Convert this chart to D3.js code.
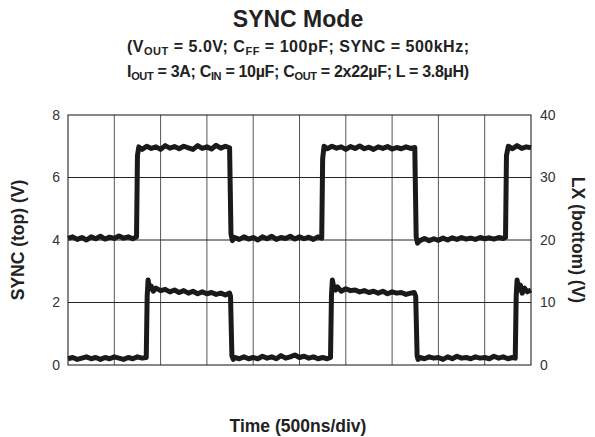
<!DOCTYPE html>
<html>
<head>
<meta charset="utf-8">
<title>SYNC Mode</title>
<script src="https://cdn.jsdelivr.net/npm/d3@7"></script>
<style>
  body { margin: 0; background: #fff; }
  svg { display: block; font-family: "Liberation Sans", Arial, sans-serif; }
  .tick-label { font-size: 14px; fill: #333; }
  .axis-title { font-size: 17.5px; font-weight: bold; fill: #222; }
</style>
</head>
<body>
<div id="chart"></div>
<script>
// time grid in ns (500 ns/div)
var timeGrid = [0, 500, 1000, 1500, 2000, 2500, 3000, 3500, 4000, 4500, 5000];
var leftTicks = [0, 2, 4, 6, 8];
var rightTicks = [0, 10, 20, 30, 40];

// SYNC trace, [time ns, volts on left axis]
var syncTrace = [
  [0, 4.05], [50, 4.1], [100, 4.02], [150, 4.08], [200, 4.0], [250, 4.1], [300, 4.04], [350, 4.12],
  [400, 4.03], [450, 4.09], [500, 4.05], [550, 4.13], [600, 4.06], [650, 4.1], [700, 4.04], [740, 4.1],
  [750, 6.7], [765, 6.98],
  [800, 6.9], [850, 7.0], [900, 6.93], [950, 6.98], [1000, 6.9], [1050, 7.02], [1100, 6.94], [1150, 6.99],
  [1200, 6.92], [1250, 7.0], [1300, 6.95], [1350, 6.9], [1400, 7.02], [1450, 6.93], [1500, 6.98],
  [1550, 6.91], [1600, 7.03], [1650, 6.94], [1700, 7.0], [1745, 6.95],
  [1760, 4.2], [1775, 3.98],
  [1800, 4.08], [1850, 4.02], [1900, 4.1], [1950, 4.03], [2000, 4.08], [2050, 4.0], [2100, 4.1],
  [2150, 4.04], [2200, 4.12], [2250, 4.02], [2300, 4.08], [2350, 4.05], [2400, 4.12], [2450, 4.03],
  [2500, 4.1], [2550, 4.04], [2600, 4.09], [2650, 4.02], [2700, 4.1], [2740, 4.06],
  [2750, 6.6], [2765, 7.0],
  [2800, 6.92], [2850, 7.0], [2900, 6.94], [2950, 6.98], [3000, 6.9], [3050, 6.99], [3100, 6.93],
  [3150, 7.01], [3200, 6.92], [3250, 6.97], [3300, 6.9], [3350, 6.98], [3400, 6.93], [3450, 6.99],
  [3500, 6.91], [3550, 6.96], [3600, 6.92], [3650, 6.98], [3700, 6.93], [3745, 6.96],
  [3760, 4.1], [3775, 3.9],
  [3800, 3.98], [3850, 4.05], [3900, 3.98], [3950, 4.04], [4000, 3.99], [4050, 4.06], [4100, 4.0],
  [4150, 4.07], [4200, 4.02], [4250, 4.08], [4300, 4.03], [4350, 4.06], [4400, 4.02], [4450, 4.08],
  [4500, 4.04], [4550, 4.07], [4600, 4.03], [4650, 4.08], [4700, 4.05], [4725, 4.08],
  [4735, 6.7], [4755, 7.0],
  [4800, 6.92], [4850, 7.02], [4900, 6.93], [4950, 6.98], [5000, 6.95]
];

// LX trace, [time ns, volts on right axis]
var lxTrace = [
  [0, 1.0], [50, 1.2], [100, 0.9], [150, 1.1], [200, 1.3], [250, 1.0], [300, 1.2], [350, 0.9],
  [400, 1.2], [450, 1.0], [500, 1.3], [550, 1.1], [600, 0.9], [650, 1.2], [700, 1.0], [750, 1.3],
  [800, 1.1], [845, 1.2],
  [855, 11], [865, 13.6], [880, 12.2], [900, 12.6], [920, 11.8], [950, 12.3], [1000, 11.9],
  [1050, 12.1], [1100, 11.7], [1150, 12.0], [1200, 11.6], [1250, 11.9], [1300, 11.5], [1350, 11.8],
  [1400, 11.4], [1450, 11.7], [1500, 11.4], [1550, 11.6], [1600, 11.3], [1650, 11.5], [1700, 11.2],
  [1745, 11.5], [1755, 11.0],
  [1770, 1.5], [1785, 0.9],
  [1800, 1.2], [1850, 1.0], [1900, 1.3], [1950, 1.0], [2000, 1.2], [2050, 1.0], [2100, 1.4],
  [2150, 1.1], [2200, 1.3], [2250, 1.0], [2300, 1.5], [2350, 1.1], [2400, 1.3], [2450, 1.6],
  [2500, 1.2], [2550, 1.4], [2600, 1.1], [2650, 1.3], [2700, 1.0], [2750, 1.2], [2800, 1.0], [2835, 1.2],
  [2845, 11], [2855, 13.6], [2870, 12.4], [2890, 12.0], [2910, 12.5], [2950, 11.8], [3000, 12.2],
  [3050, 11.9], [3100, 12.0], [3150, 11.7], [3200, 11.9], [3250, 11.6], [3300, 11.8], [3350, 11.5],
  [3400, 11.8], [3450, 11.4], [3500, 11.7], [3550, 11.5], [3600, 11.6], [3650, 11.3], [3700, 11.5],
  [3740, 11.6], [3755, 11.0],
  [3770, 1.5], [3780, 0.9],
  [3800, 1.2], [3850, 1.0], [3900, 1.3], [3950, 1.1], [4000, 1.2], [4050, 0.9], [4100, 1.3],
  [4150, 1.0], [4200, 1.4], [4250, 1.1], [4300, 1.2], [4350, 1.0], [4400, 1.3], [4450, 1.1],
  [4500, 1.2], [4550, 1.0], [4600, 1.4], [4650, 1.1], [4700, 1.3], [4750, 1.0], [4800, 1.2], [4830, 1.1],
  [4840, 11], [4850, 13.6], [4865, 12.0], [4885, 12.8], [4905, 11.5], [4930, 12.3], [4960, 11.7], [5000, 12.0]
];

var width = 595, height = 437;
var margin = {top: 115, right: 64, bottom: 72, left: 68};

var svg = d3.select("#chart").append("svg")
  .attr("width", width)
  .attr("height", height);

svg.append("rect").attr("width", width).attr("height", height).attr("fill", "#fff");

var x = d3.scaleLinear().domain([0, 5000]).range([margin.left, width - margin.right]);
var yL = d3.scaleLinear().domain([0, 8]).range([height - margin.bottom, margin.top]);
var yR = d3.scaleLinear().domain([0, 40]).range([height - margin.bottom, margin.top]);

// grid
svg.append("g").selectAll("line")
  .data(timeGrid.slice(1, -1)).enter()
  .append("line")
    .attr("x1", function (d) { return x(d); })
    .attr("x2", function (d) { return x(d); })
    .attr("y1", yL(0)).attr("y2", yL(8))
    .attr("stroke", "#555").attr("stroke-width", 1);

svg.append("g").selectAll("line")
  .data(leftTicks.slice(1, -1)).enter()
  .append("line")
    .attr("x1", x(0)).attr("x2", x(5000))
    .attr("y1", function (d) { return yL(d); })
    .attr("y2", function (d) { return yL(d); })
    .attr("stroke", "#222").attr("stroke-width", 1);

svg.append("rect")
  .attr("x", x(0)).attr("y", yL(8))
  .attr("width", x(5000) - x(0)).attr("height", yL(0) - yL(8))
  .attr("fill", "none").attr("stroke", "#111").attr("stroke-width", 1);

// axes (labels only, no tick marks)
var leftAxis = svg.append("g")
  .attr("transform", "translate(" + x(0) + ",0)")
  .call(d3.axisLeft(yL).tickValues(leftTicks).tickSize(0).tickPadding(8));
var rightAxis = svg.append("g")
  .attr("transform", "translate(" + x(5000) + ",0)")
  .call(d3.axisRight(yR).tickValues(rightTicks).tickSize(0).tickPadding(9));
[leftAxis, rightAxis].forEach(function (a) {
  a.select(".domain").remove();
  a.selectAll("text").attr("class", "tick-label").attr("font-family", null).attr("font-size", null);
});

// traces
var lineL = d3.line().x(function (d) { return x(d[0]); }).y(function (d) { return yL(d[1]); });
var lineR = d3.line().x(function (d) { return x(d[0]); }).y(function (d) { return yR(d[1]); });

svg.append("path").datum(syncTrace)
  .attr("d", lineL)
  .attr("fill", "none").attr("stroke", "#1a1a1a")
  .attr("stroke-width", 5).attr("stroke-linejoin", "round");

svg.append("path").datum(lxTrace)
  .attr("d", lineR)
  .attr("fill", "none").attr("stroke", "#1a1a1a")
  .attr("stroke-width", 5).attr("stroke-linejoin", "round");

// titles
svg.append("text")
  .attr("x", 298).attr("y", 27)
  .attr("text-anchor", "middle")
  .attr("font-size", 23).attr("font-weight", "bold").attr("fill", "#222")
  .text("SYNC Mode");

function subLine(y, parts) {
  var t = svg.append("text")
    .attr("x", 298).attr("y", y)
    .attr("text-anchor", "middle")
    .attr("font-size", 16).attr("font-weight", "bold").attr("fill", "#222")
    .attr("textLength", 342).attr("lengthAdjust", "spacing");
  parts.forEach(function (p) {
    var ts = t.append("tspan").text(p[0]);
    if (p[1]) ts.attr("font-size", 11).attr("baseline-shift", "-3");
  });
}
subLine(52, [["(V"], ["OUT", 1], [" = 5.0V; C"], ["FF", 1], [" = 100pF; SYNC = 500kHz;"]]);
subLine(77, [["I"], ["OUT", 1], [" = 3A; C"], ["IN", 1], [" = 10\u00b5F; C"], ["OUT", 1], [" = 2x22\u00b5F; L = 3.8\u00b5H)"]]);

svg.append("text")
  .attr("class", "axis-title")
  .attr("transform", "translate(24," + yL(4) + ") rotate(-90)")
  .attr("text-anchor", "middle")
  .text("SYNC (top) (V)");

svg.append("text")
  .attr("class", "axis-title")
  .attr("transform", "translate(572," + yL(4) + ") rotate(90)")
  .attr("text-anchor", "middle")
  .text("LX (bottom) (V)");

svg.append("text")
  .attr("class", "axis-title")
  .attr("x", 298).attr("y", 432)
  .attr("text-anchor", "middle")
  .text("Time (500ns/div)");
</script>
</body>
</html>
